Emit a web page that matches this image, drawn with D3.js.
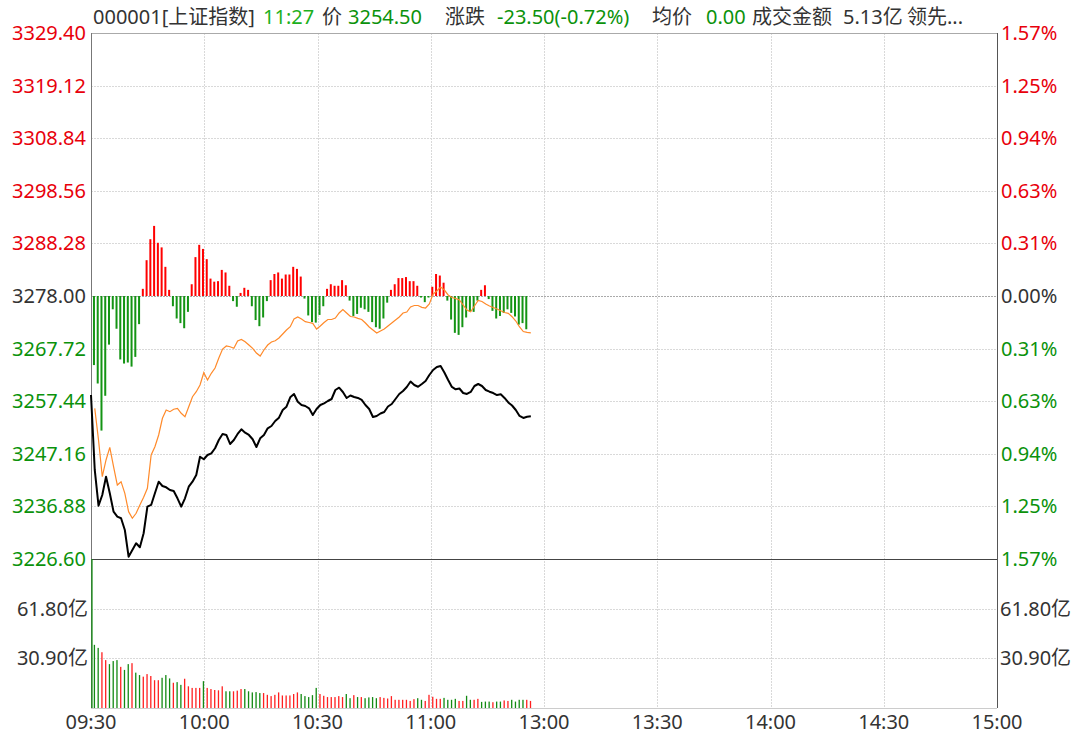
<!DOCTYPE html>
<html>
<head>
<meta charset="utf-8">
<script src="https://cdn.jsdelivr.net/npm/d3@7"></script>
<style>
body { margin: 0; background: #fff; }
svg { display: block; }
text { font-family: "Noto Sans", "Noto Sans CJK SC", sans-serif; }
</style>
</head>
<body>
<script>
// previous close and axis ticks
var prevClose = 3278.00;
var priceTicks = [3329.40, 3319.12, 3308.84, 3298.56, 3288.28, 3278.00, 3267.72, 3257.44, 3247.16, 3236.88, 3226.60];
var pctTicks = ["1.57%", "1.25%", "0.94%", "0.63%", "0.31%", "0.00%", "0.31%", "0.63%", "0.94%", "1.25%", "1.57%"];
var volTicks = [61.80, 30.90];
var timeLabels = ["09:30", "10:00", "10:30", "11:00", "13:00", "13:30", "14:00", "14:30", "15:00"];

// minute price, 09:30 .. 11:27
var priceLine = [
  3258.65, 3244.00, 3237.02, 3239.11, 3242.69, 3239.44, 3235.85, 3234.87, 3234.56, 3232.27,
  3227.05, 3228.36, 3229.67, 3228.89, 3231.63, 3236.82, 3237.16, 3239.44, 3241.71, 3240.87,
  3240.61, 3240.09, 3239.89, 3238.46, 3236.82, 3238.46, 3240.73, 3241.71, 3243.02, 3246.59,
  3246.09, 3246.93, 3247.26, 3248.24, 3249.86, 3251.03, 3250.84, 3249.08, 3249.86, 3251.03,
  3251.95, 3251.29, 3250.84, 3250.00, 3248.49, 3250.19, 3250.84, 3252.15, 3252.59, 3253.57,
  3254.22, 3255.72, 3256.37, 3258.20, 3258.85, 3257.34, 3256.70, 3256.50, 3256.05, 3254.74,
  3255.92, 3256.70, 3257.03, 3257.48, 3257.87, 3259.63, 3260.08, 3259.24, 3258.07, 3258.55,
  3258.26, 3258.07, 3257.68, 3256.70, 3255.92, 3254.35, 3254.55, 3255.04, 3255.33, 3256.40,
  3256.89, 3257.87, 3258.85, 3259.43, 3260.22, 3261.29, 3260.61, 3260.27, 3260.80, 3261.39,
  3262.56, 3263.54, 3264.12, 3264.32, 3263.05, 3261.58, 3260.22, 3259.77, 3259.92, 3259.04,
  3258.85, 3259.24, 3260.41, 3260.80, 3260.41, 3259.63, 3259.30, 3259.04, 3258.65, 3258.79,
  3258.07, 3257.19, 3256.60, 3255.72, 3254.55, 3254.16, 3254.40, 3254.50
];

// leading index line, starts at 09:31
var leadLine = [
  3256.05, 3249.86, 3242.69, 3245.95, 3248.43, 3244.64, 3241.06, 3241.71, 3239.44, 3235.85,
  3234.56, 3235.53, 3237.16, 3238.66, 3240.42, 3246.93, 3248.55, 3250.84, 3254.10, 3255.72,
  3255.39, 3255.86, 3256.05, 3255.08, 3254.41, 3256.37, 3258.32, 3259.30, 3260.61, 3263.01,
  3261.58, 3262.89, 3263.93, 3265.88, 3267.64, 3268.23, 3268.09, 3267.78, 3269.21, 3269.50,
  3269.07, 3268.42, 3267.78, 3266.86, 3266.27, 3267.45, 3268.42, 3269.01, 3269.26, 3269.79,
  3270.57, 3271.36, 3272.00, 3273.51, 3273.90, 3273.51, 3272.98, 3272.82, 3272.66, 3271.55,
  3272.14, 3272.82, 3273.41, 3273.41, 3273.70, 3274.68, 3275.36, 3274.68, 3273.99, 3273.90,
  3273.64, 3273.41, 3272.72, 3271.94, 3271.36, 3270.77, 3271.16, 3271.55, 3272.14, 3272.72,
  3273.31, 3273.90, 3274.68, 3274.87, 3275.85, 3276.14, 3276.14, 3275.79, 3275.65, 3276.44,
  3278.39, 3278.98, 3279.76, 3279.17, 3278.20, 3277.71, 3277.51, 3277.22, 3276.24, 3275.26,
  3274.93, 3276.05, 3277.12, 3276.93, 3276.44, 3276.05, 3275.75, 3275.46, 3275.11, 3274.78,
  3274.62, 3273.95, 3273.11, 3271.94, 3271.06, 3270.90, 3270.80
];

// red/green force bars (points vs prev close), starts at 09:31
var forceBars = [
  -13.5, -17.1, -26.3, -19.5, -9.5, -2.6, -6.4, -12.4, -13.2, -13.0,
  -13.8, -11.9, -5.5, 1.4, 7.0, 11.1, 13.7, 10.4, 9.5, 5.7,
  1.2, -2.0, -4.4, -5.3, -6.3, -3.1, 2.3, 7.6, 10.0, 9.2,
  7.2, 3.4, 2.8, 2.9, 5.1, 4.6, 2.0, -1.0, -2.1, 0.6,
  1.6, 1.2, -2.0, -4.7, -5.9, -4.2, -1.0, 3.1, 4.3, 4.6,
  3.4, 4.2, 4.2, 5.7, 5.3, 3.8, -0.5, -3.8, -5.1, -5.2,
  -3.7, -2.0, 1.4, 2.3, 2.0, 2.0, 3.1, 2.1, -0.9, -3.9,
  -3.5, -2.3, -2.6, -3.1, -5.1, -6.1, -6.4, -4.4, -1.3, 1.2,
  2.3, 3.5, 3.5, 3.7, 2.9, 2.9, 2.0, -0.3, -1.2, -0.3,
  1.8, 4.3, 4.0, 2.6, -0.9, -4.6, -7.2, -7.6, -6.1, -4.2,
  -3.1, -3.1, -0.9, 1.2, 2.1, -0.6, -2.9, -4.4, -3.9, -3.3,
  -2.6, -3.3, -4.0, -5.6, -5.3, -6.5
];

// turnover per minute (亿), 09:30 .. 11:27
var volumes = [
  120, 39.3, 37.4, 34.7, 29.8, 27.3, 29.2, 29.8, 25.6, 23.7,
  27.3, 27.9, 22.0, 20.5, 19.5, 21.1, 19.9, 17.3, 17.3, 18.8,
  20.5, 18.4, 15.7, 16.1, 14.4, 18.2, 13.5, 12.5, 12.5, 12.5,
  16.7, 12.5, 11.8, 11.2, 11.0, 13.5, 10.4, 10.4, 10.4, 10.8,
  11.8, 11.8, 10.4, 9.7, 9.9, 9.3, 9.3, 8.2, 7.4, 8.2,
  9.7, 7.8, 7.8, 7.8, 8.7, 9.7, 8.7, 7.4, 6.8, 8.0,
  12.5, 8.7, 7.6, 6.8, 6.8, 6.8, 7.4, 6.8, 8.7, 6.1,
  8.0, 6.8, 6.8, 6.1, 6.6, 6.8, 6.1, 6.8, 6.3, 5.9,
  7.4, 5.1, 5.1, 5.1, 5.1, 4.4, 5.5, 6.1, 5.1, 4.4,
  8.2, 7.0, 5.7, 5.7, 6.3, 5.1, 5.1, 5.7, 4.4, 4.4,
  7.6, 5.1, 5.1, 5.7, 3.8, 4.0, 4.0, 3.6, 4.0, 4.0,
  4.7, 4.4, 5.1, 4.0, 5.1, 5.1, 5.1, 4.4
];
// u = up minute (red), d = down minute (green)
var volumeDir = ("d" + "dduudddudd" + "udduuuuudd" + "dudduuuuud" + "uuuuudduuu" +
  "ddddduuuuu" + "uuuuuddddd" + "uuuuuuuddu" + "dudddduuuu" + "uuuuuudduu" +
  "uuudddduud" + "duuddduddu" + "udddduu").split("");

var width = 1080, height = 735;
var plotLeft = 91, plotRight = 997, plotTop = 33, plotMid = 559, plotBottom = 708;

var red = "#e8000b", green = "#0b920b", dark = "#333";

var svg = d3.select("body").append("svg")
    .attr("width", width)
    .attr("height", height);

var x = d3.scaleLinear().domain([0, 241]).range([plotLeft, plotRight]);
var xTime = d3.scalePoint().domain(timeLabels).range([plotLeft, plotRight]);
var y = d3.scaleLinear().domain([3226.60, 3329.40]).range([plotMid, plotTop]);
var yVol = d3.scaleLinear().domain([0, 92.70]).range([plotBottom, plotMid]).clamp(true);

// grid
svg.append("g").selectAll("line").data(timeLabels.slice(1, -1)).enter().append("line")
    .attr("x1", function(d) { return Math.round(xTime(d)) + 0.5; })
    .attr("x2", function(d) { return Math.round(xTime(d)) + 0.5; })
    .attr("y1", plotTop).attr("y2", plotBottom)
    .attr("stroke", "#d9d9d9").attr("stroke-dasharray", "2,1");

svg.append("g").selectAll("line").data(priceTicks.slice(1, -1)).enter().append("line")
    .attr("x1", plotLeft).attr("x2", plotRight)
    .attr("y1", function(d) { return Math.round(y(d)) + 0.5; })
    .attr("y2", function(d) { return Math.round(y(d)) + 0.5; })
    .attr("stroke", function(d) { return d === prevClose ? "#aaa" : "#d9d9d9"; })
    .attr("stroke-dasharray", "2,1");

svg.append("g").selectAll("line").data(volTicks).enter().append("line")
    .attr("x1", plotLeft).attr("x2", plotRight)
    .attr("y1", function(d) { return Math.round(yVol(d)) + 0.5; })
    .attr("y2", function(d) { return Math.round(yVol(d)) + 0.5; })
    .attr("stroke", "#d9d9d9").attr("stroke-dasharray", "2,1");

// frame
svg.append("line").attr("x1", plotLeft).attr("x2", plotRight).attr("y1", plotTop + 0.5).attr("y2", plotTop + 0.5).attr("stroke", "#aaa");
svg.append("line").attr("x1", plotLeft).attr("x2", plotRight).attr("y1", plotMid + 0.5).attr("y2", plotMid + 0.5).attr("stroke", "#444");
svg.append("line").attr("x1", plotLeft).attr("x2", plotRight).attr("y1", plotBottom + 0.5).attr("y2", plotBottom + 0.5).attr("stroke", "#ccc");
svg.append("line").attr("x1", plotLeft + 0.5).attr("x2", plotLeft + 0.5).attr("y1", plotTop).attr("y2", plotBottom).attr("stroke", "#777");
svg.append("line").attr("x1", plotRight + 0.5).attr("x2", plotRight + 0.5).attr("y1", plotTop).attr("y2", plotBottom).attr("stroke", "#555");

// force bars
svg.append("g").selectAll("rect").data(forceBars).enter().append("rect")
    .attr("x", function(d, i) { return x(i + 1) - 1.8; })
    .attr("width", 2)
    .attr("y", function(d) { return d > 0 ? y(prevClose + d) : y(prevClose); })
    .attr("height", function(d) { return Math.abs(y(prevClose + d) - y(prevClose)); })
    .attr("fill", function(d) { return d > 0 ? "#ff0000" : "#149414"; });

// volume bars
svg.append("g").selectAll("rect").data(volumes).enter().append("rect")
    .attr("x", function(d, i) { return i === 0 ? plotLeft + 0.3 : x(i) - 1; })
    .attr("width", 1.3)
    .attr("y", function(d) { return yVol(d); })
    .attr("height", function(d) { return plotBottom - yVol(d); })
    .attr("fill", function(d, i) { return volumeDir[i] === "u" ? "#ff2020" : "#138a13"; });

// lead line
svg.append("path").datum(leadLine)
    .attr("fill", "none").attr("stroke", "#ff8a2a").attr("stroke-width", 1.2)
    .attr("d", d3.line().x(function(d, i) { return x(i + 1); }).y(function(d) { return y(d); }));

// price line
svg.append("path").datum(priceLine)
    .attr("fill", "none").attr("stroke", "#000").attr("stroke-width", 2)
    .attr("stroke-linejoin", "round")
    .attr("d", d3.line().x(function(d, i) { return x(i); }).y(function(d) { return y(d); }));

// left price labels
function tickColor(d) { return d > prevClose ? red : (d < prevClose ? green : dark); }
svg.append("g").selectAll("text").data(priceTicks).enter().append("text")
    .attr("x", 86).attr("y", function(d) { return y(d); })
    .attr("dy", "0.35em").attr("text-anchor", "end")
    .attr("font-size", 20).attr("fill", tickColor)
    .text(function(d) { return d.toFixed(2); });

svg.append("g").selectAll("text").data(pctTicks).enter().append("text")
    .attr("x", 1001).attr("y", function(d, i) { return y(priceTicks[i]); })
    .attr("dy", "0.35em")
    .attr("font-size", 20).attr("fill", function(d, i) { return tickColor(priceTicks[i]); })
    .text(function(d) { return d; });

// volume labels
svg.append("g").selectAll("text").data(volTicks).enter().append("text")
    .attr("x", 88).attr("y", function(d) { return yVol(d); })
    .attr("dy", "0.35em").attr("text-anchor", "end")
    .attr("font-size", 20).attr("fill", dark)
    .text(function(d) { return d.toFixed(2) + "亿"; });
svg.append("g").selectAll("text").data(volTicks).enter().append("text")
    .attr("x", 1000).attr("y", function(d) { return yVol(d); })
    .attr("dy", "0.35em")
    .attr("font-size", 20).attr("fill", dark)
    .text(function(d) { return d.toFixed(2) + "亿"; });

// time axis
svg.append("g").selectAll("text").data(timeLabels).enter().append("text")
    .attr("x", function(d) { return xTime(d); }).attr("y", 722)
    .attr("dy", "0.35em").attr("text-anchor", "middle")
    .attr("font-size", 20).attr("fill", dark)
    .text(function(d) { return d; });

// header
var header = [
  { t: "000001[上证指数]", x: 93, c: dark },
  { t: "11:27", x: 263, c: "#1cb01c" },
  { t: "价", x: 322, c: dark },
  { t: "3254.50", x: 348, c: green },
  { t: "涨跌", x: 445, c: dark },
  { t: "-23.50(-0.72%)", x: 497, c: green },
  { t: "均价", x: 652, c: dark },
  { t: "0.00", x: 706, c: green },
  { t: "成交金额", x: 752, c: dark },
  { t: "5.13亿", x: 843, c: dark },
  { t: "领先...", x: 907, c: dark }
];
svg.append("g").selectAll("text").data(header).enter().append("text")
    .attr("x", function(d) { return d.x; }).attr("y", 17)
    .attr("dy", "0.35em")
    .attr("font-size", 20).attr("fill", function(d) { return d.c; })
    .text(function(d) { return d.t; });
</script>
</body>
</html>
